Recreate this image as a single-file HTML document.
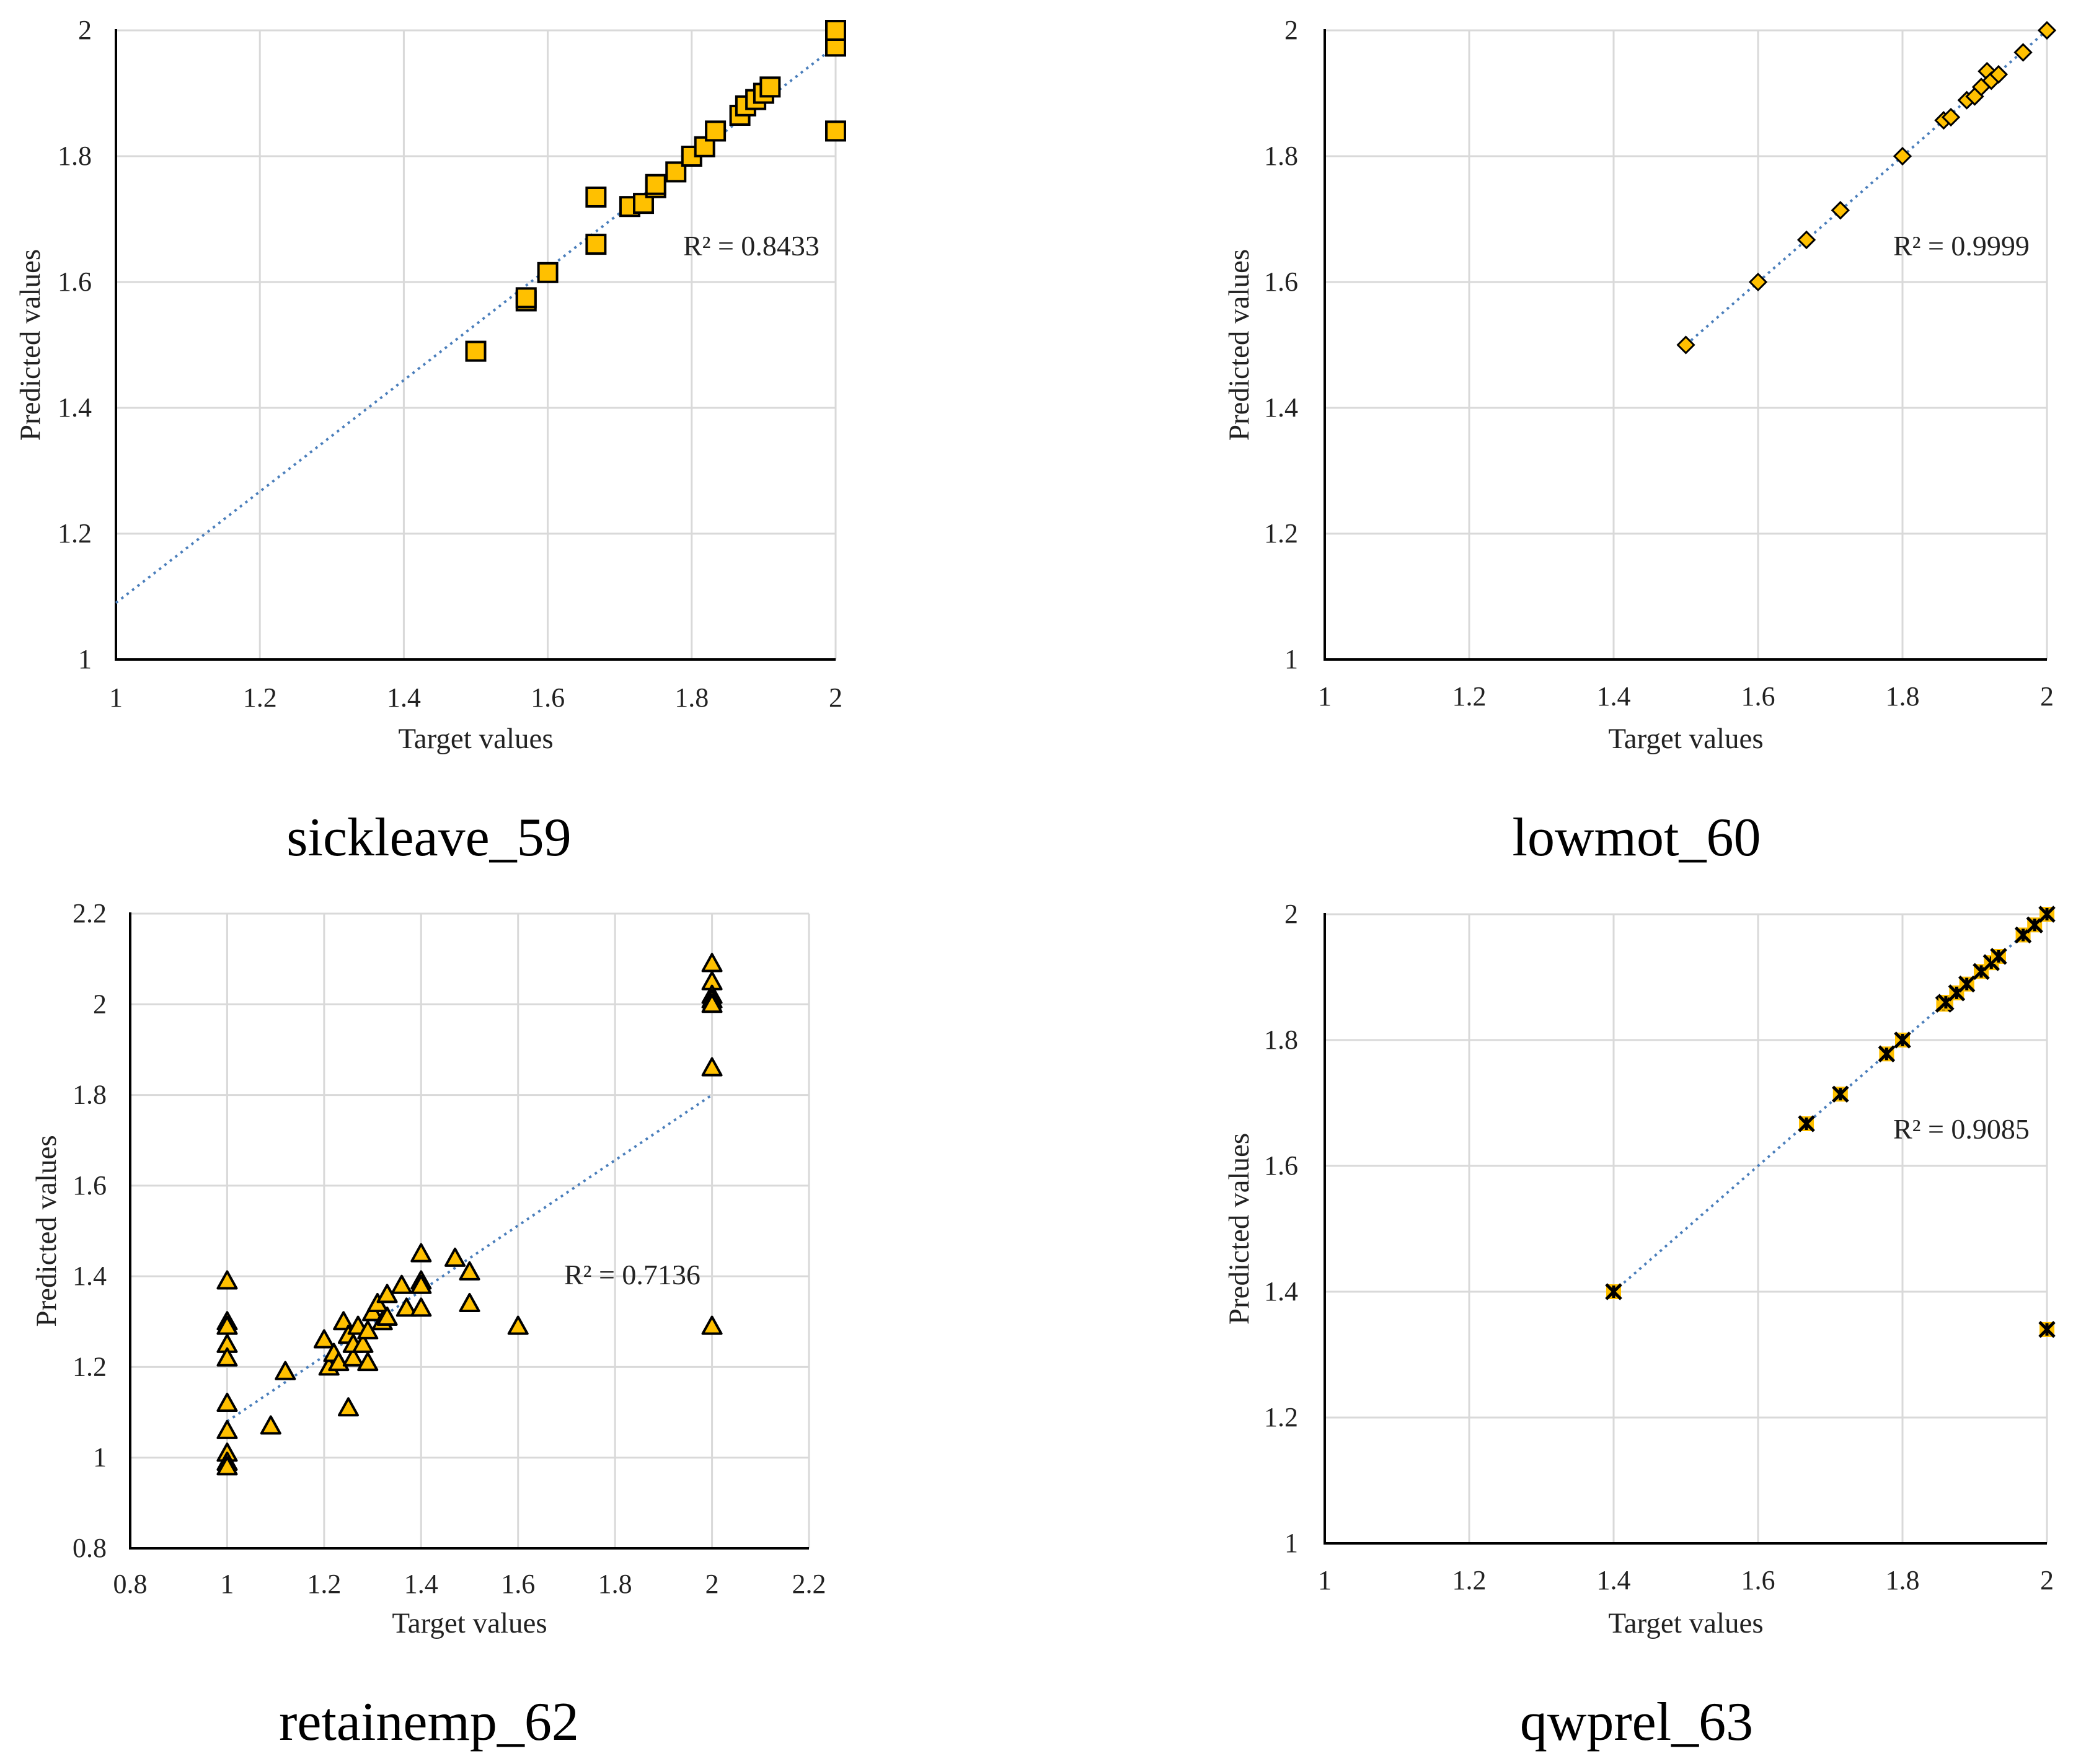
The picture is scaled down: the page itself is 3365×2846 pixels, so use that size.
<!DOCTYPE html>
<html><head><meta charset="utf-8"><style>
html,body{margin:0;padding:0;background:#fff}
svg{display:block}
text{font-family:"Liberation Serif",serif;fill:#222}
</style></head><body>
<svg id="s" width="3365" height="2846" viewBox="0 0 3365 2846"></svg>
<script>
// chart 1: sickleave_59
const c1x=[1.5,1.57,1.57,1.6,1.667,1.667,1.714,1.733,1.75,1.75,1.778,1.8,1.818,1.833,1.867,1.875,1.889,1.9,1.909,2,2,2];
const c1y=[1.49,1.57,1.575,1.615,1.66,1.735,1.72,1.725,1.75,1.755,1.775,1.8,1.815,1.84,1.865,1.88,1.89,1.9,1.91,1.975,2.0,1.84];
const c1trend=[[1,1.09],[2,1.975]];
// chart 2: lowmot_60
const c2x=[1.5,1.6,1.667,1.714,1.8,1.857,1.867,1.889,1.9,1.909,1.917,1.923,1.933,1.967,2];
const c2y=[1.5,1.6,1.667,1.714,1.8,1.857,1.862,1.889,1.895,1.91,1.935,1.92,1.93,1.965,2];
const c2trend=[[1.5,1.5],[2,2]];
// chart 3: retainemp_62
const c3x=[1,1,1,1,1,1,1,1,1,1,1.09,1.12,1.2,1.21,1.22,1.23,1.24,1.25,1.25,1.26,1.26,1.27,1.28,1.29,1.29,1.3,1.31,1.32,1.33,1.33,1.36,1.37,1.4,1.4,1.4,1.4,1.47,1.5,1.5,1.6,2,2,2,2,2,2,2];
const c3y=[1.39,1.30,1.29,1.25,1.22,1.12,1.06,1.01,0.99,0.98,1.07,1.19,1.26,1.2,1.23,1.21,1.3,1.11,1.27,1.22,1.25,1.29,1.25,1.28,1.21,1.32,1.34,1.3,1.31,1.36,1.38,1.33,1.45,1.39,1.38,1.33,1.44,1.41,1.34,1.29,2.09,2.05,2.02,2.01,2.0,1.86,1.29];
const c3trend=[[1,1.08],[2,1.8]];
// chart 4: qwprel_63
const c4x=[1.4,1.667,1.714,1.778,1.8,1.857,1.86,1.875,1.889,1.909,1.923,1.933,1.967,1.983,2,2];
const c4y=[1.4,1.667,1.714,1.778,1.8,1.857,1.86,1.875,1.889,1.909,1.923,1.933,1.967,1.983,2,1.34];
const c4trend=[[1.4,1.4],[2,2]];
const ticks1=["1","1.2","1.4","1.6","1.8","2"];
const ticks3=["0.8","1","1.2","1.4","1.6","1.8","2","2.2"];

const NS="http://www.w3.org/2000/svg";
const svg=document.getElementById('s');
function mk(tag,attrs,parent,txt){const e=document.createElementNS(NS,tag);for(const k in attrs)e.setAttribute(k,attrs[k]);if(txt!==undefined)e.textContent=txt;(parent||svg).appendChild(e);return e;}

function chart(cfg){
  const g=mk('g',{});
  
  
  const {L,R,T,B,min,max}=cfg;
  const sx=v=>L+(v-min)/(max-min)*(R-L);
  const sy=v=>B-(v-min)/(max-min)*(B-T);
  cfg.ticks.forEach(t=>{
    const v=parseFloat(t);
    const gx=mk('line',{x1:sx(v),x2:sx(v),y1:T,y2:B,stroke:'#d9d9d9','stroke-width':3},g);
    
    
    const gy=mk('line',{x1:L,x2:R,y1:sy(v),y2:sy(v),stroke:'#d9d9d9','stroke-width':3},g);
    
    
    const tx=mk('text',{x:sx(v),y:cfg.xtickY,'font-size':44,'text-anchor':'middle'},g,t);
    
    
    const ty=mk('text',{x:cfg.ytickX,y:sy(v)+14,'font-size':44,'text-anchor':'end'},g,t);
    
    
  });
  const ax=mk('line',{x1:L,x2:R,y1:B,y2:B,stroke:'#000','stroke-width':4},g);
  
  
  const ay=mk('line',{x1:L,x2:L,y1:T-2,y2:B+2,stroke:'#000','stroke-width':4},g);
  
  
  const tr=mk('line',{x1:sx(cfg.trend[0][0]),y1:sy(cfg.trend[0][1]),x2:sx(cfg.trend[1][0]),y2:sy(cfg.trend[1][1]),stroke:'#4a7ebb','stroke-width':4,'stroke-dasharray':'4 7'},g);
  
  
  cfg.xs.forEach((xv,i)=>{
    const px=sx(xv),py=sy(cfg.ys[i]);
    let m;
    if(cfg.marker==='square'){
      m=mk('rect',{x:px-15,y:py-15,width:30,height:30,fill:'#ffc000',stroke:'#000','stroke-width':4},g);
    }else if(cfg.marker==='diamond'){
      m=mk('polygon',{points:`${px},${py-13} ${px+13},${py} ${px},${py+13} ${px-13},${py}`,fill:'#ffc000',stroke:'#000','stroke-width':3},g);
    }else if(cfg.marker==='triangle'){
      m=mk('polygon',{points:`${px},${py-15} ${px+15},${py+12} ${px-15},${py+12}`,fill:'#ffc000',stroke:'#000','stroke-width':4,'stroke-linejoin':'round'},g);
    }else{
      m=mk('g',{},g);
      mk('rect',{x:px-12,y:py-12,width:24,height:24,fill:'#ffc000'},m);
      mk('path',{d:`M${px-12},${py-12}L${px+12},${py+12}M${px+12},${py-12}L${px-12},${py+12}M${px},${py-10}L${px},${py+10}`,stroke:'#000','stroke-width':5},m);
    }
    
    
  });
  const r2=mk('text',{x:cfg.r2x,y:cfg.r2y,'font-size':46},g,cfg.r2);
  
  
  const xt=mk('text',{x:(L+R)/2,y:cfg.xtitleY,'font-size':47,'text-anchor':'middle'},g,'Target values');
  
  
  const cy=(T+B)/2;
  const yt=mk('text',{x:cfg.ytitleX,y:cy,'font-size':47,'text-anchor':'middle',transform:`rotate(-90 ${cfg.ytitleX} ${cy})`},g,'Predicted values');
  
  
  const tt=mk('text',{x:cfg.titleX,y:cfg.titleY,'font-size':88,'text-anchor':'middle',style:'fill:#000'},g,cfg.title);
  
  
}
chart({name:'chart-sickleave-59',L:187,R:1348,T:49,B:1064,min:1,max:2,ticks:ticks1,xs:c1x,ys:c1y,trend:c1trend,marker:'square',
  xtickY:1140,ytickX:148,xtitleY:1207,ytitleX:64,r2:'R² = 0.8433',r2x:1102,r2y:412,title:'sickleave_59',titleX:692,titleY:1380});
chart({name:'chart-lowmot-60',L:2137,R:3302,T:49,B:1064,min:1,max:2,ticks:ticks1,xs:c2x,ys:c2y,trend:c2trend,marker:'diamond',
  xtickY:1138,ytickX:2094,xtitleY:1207,ytitleX:2014,r2:'R² = 0.9999',r2x:3054,r2y:412,title:'lowmot_60',titleX:2640,titleY:1380});
chart({name:'chart-retainemp-62',L:210,R:1305,T:1474,B:2498,min:0.8,max:2.2,ticks:ticks3,xs:c3x,ys:c3y,trend:c3trend,marker:'triangle',
  xtickY:2570,ytickX:172,xtitleY:2634,ytitleX:90,r2:'R² = 0.7136',r2x:910,r2y:2072,title:'retainemp_62',titleX:692,titleY:2807});
chart({name:'chart-qwprel-63',L:2137,R:3302,T:1475,B:2490,min:1,max:2,ticks:ticks1,xs:c4x,ys:c4y,trend:c4trend,marker:'x',
  xtickY:2564,ytickX:2094,xtitleY:2634,ytitleX:2014,r2:'R² = 0.9085',r2x:3054,r2y:1837,title:'qwprel_63',titleX:2640,titleY:2807});
</script>
</body></html>
